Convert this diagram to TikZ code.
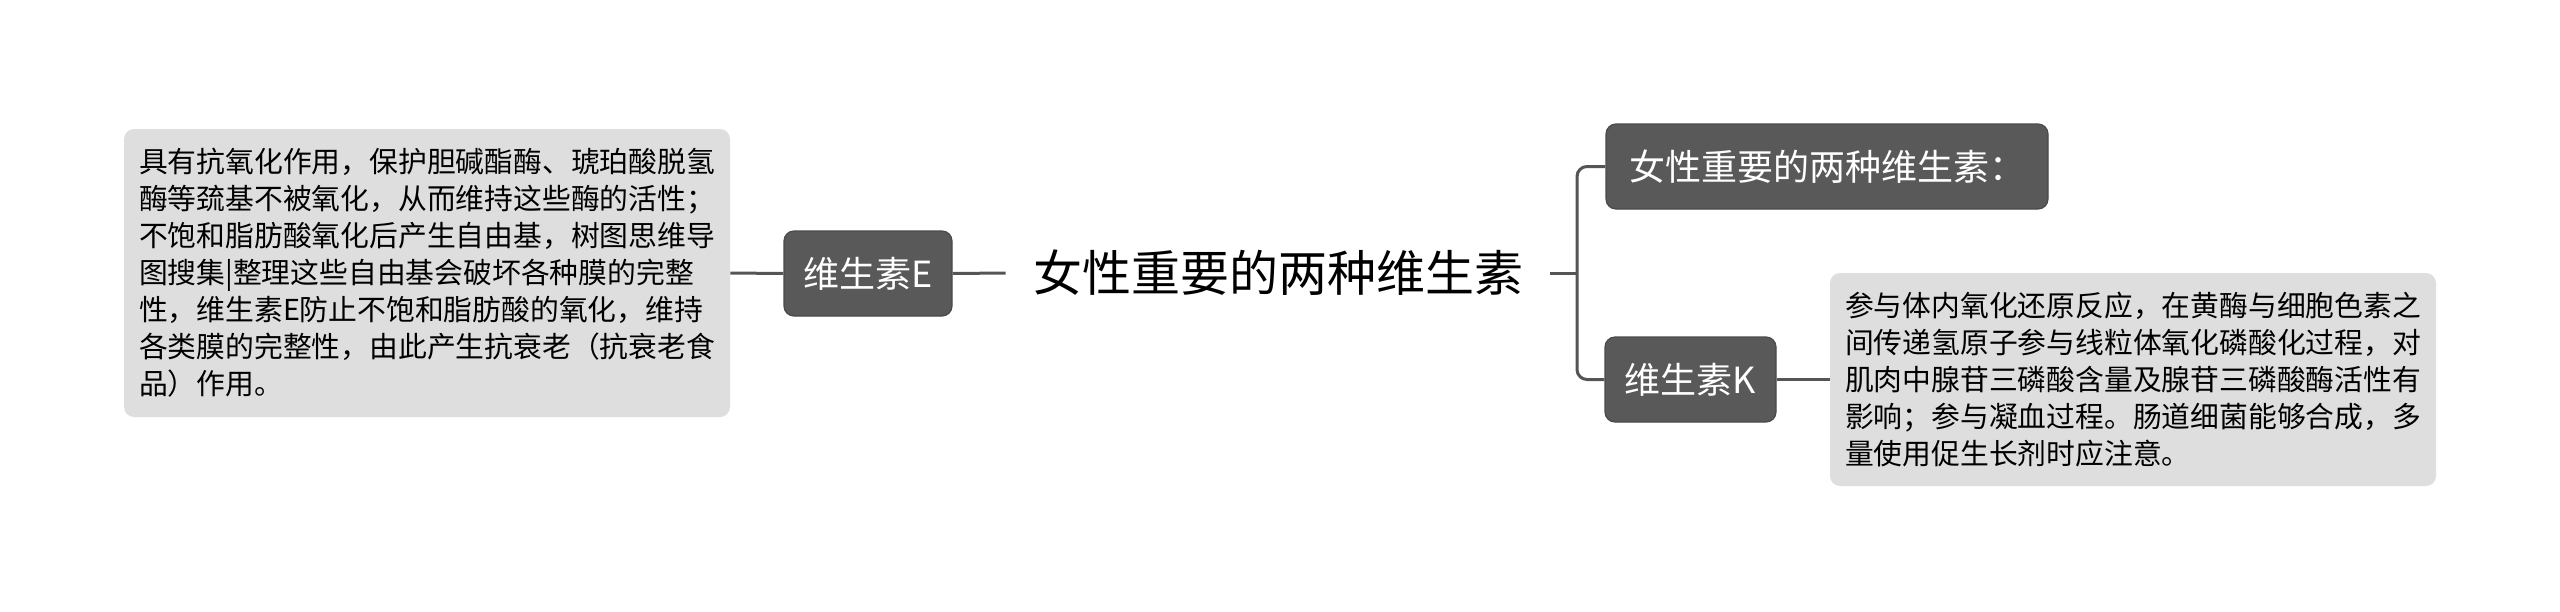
\documentclass[tikz,border=0pt]{standalone}
\usepackage{fontspec}
\setmainfont{Noto Sans CJK SC}
\definecolor{boxdark}{HTML}{595959}
\definecolor{boxedge}{HTML}{4A4A4A}
\definecolor{boxlight}{HTML}{DEDEDE}
\definecolor{linegray}{HTML}{555555}
\begin{document}
\begin{tikzpicture}[x=0.5pt,y=-0.5pt,
  dark/.style={fill=boxdark,draw=boxedge,line width=0.6pt,rounded corners=5pt,text=white,
    font=\fontsize{18}{22}\selectfont,inner sep=0pt,minimum height=42.5pt},
  note/.style={fill=boxlight,rounded corners=5pt,align=left,inner sep=0pt,
    font=\fontsize{14.4}{18.5}\selectfont},
  link/.style={draw=linegray,line width=1.5pt}]
\useasboundingbox[fill=white](0,0)rectangle(2560,611);
\node[font=\fontsize{24.5}{28}\selectfont,inner xsep=13.5pt](root) at(1278,273){女性重要的两种维生素};
\node[dark,minimum width=84pt](vitE) at(868,273.5){维生素E};
\node[note,minimum width=303pt,minimum height=144pt](noteE) at(427,273){具有抗氧化作用，保护胆碱酯酶、琥珀酸脱氢\\酶等巯基不被氧化，从而维持这些酶的活性；\\不饱和脂肪酸氧化后产生自由基，树图思维导\\图搜集|整理这些自由基会破坏各种膜的完整\\性，维生素E防止不饱和脂肪酸的氧化，维持\\各类膜的完整性，由此产生抗衰老（抗衰老食\\品）作用。};
\node[dark,minimum width=221pt](sum) at(1827,166.5){女性重要的两种维生素：};
\node[dark,minimum width=85.5pt](vitK) at(1690.5,379.5){维生素K};
\node[note,minimum width=303pt,minimum height=106.5pt](noteK) at(2133,379.5){参与体内氧化还原反应，在黄酶与细胞色素之\\间传递氢原子参与线粒体氧化磷酸化过程，对\\肌肉中腺苷三磷酸含量及腺苷三磷酸酶活性有\\影响；参与凝血过程。肠道细菌能够合成，多\\量使用促生长剂时应注意。};
\coordinate(fork) at(1577,273);
\draw[link](noteE.east)--(vitE.west);
\draw[link](vitE.east)--(root.west);
\draw[link](root.east)--(fork);
\draw[link,rounded corners=5pt](fork)|-(sum.west);
\draw[link,rounded corners=5pt](fork)|-(vitK.west);
\draw[link](vitK.east)--(noteK.west);
\end{tikzpicture}
\end{document}
